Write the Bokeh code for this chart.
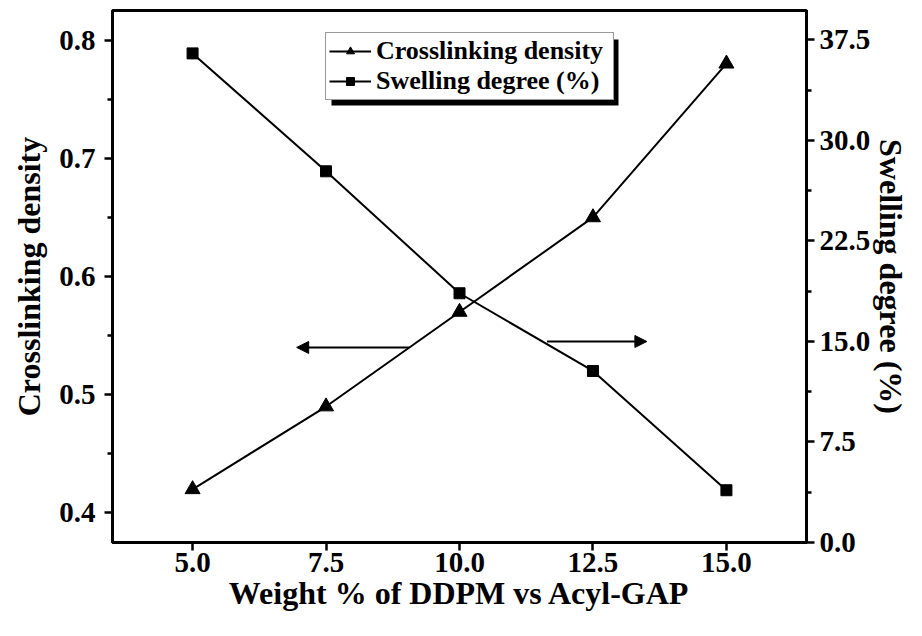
from bokeh.plotting import figure
from bokeh.models import (Range1d, LinearAxis, FixedTicker, PrintfTickFormatter,
                          Legend, LegendItem, Arrow, NormalHead, BoxAnnotation)
from bokeh.embed import file_html
from bokeh.resources import INLINE

# ---- data ----
weight = [5.0, 7.5, 10.0, 12.5, 15.0]
crosslink_density = [0.42, 0.49, 0.57, 0.65, 0.78]
swelling_degree = [36.5, 27.7, 18.6, 12.8, 3.9]

x_ticks = [5.0, 7.5, 10.0, 12.5, 15.0]
left_ticks = [0.4, 0.5, 0.6, 0.7, 0.8]
left_minor = [0.45, 0.55, 0.65, 0.75]
right_ticks = [0.0, 7.5, 15.0, 22.5, 30.0, 37.5]
right_minor = [3.75, 11.25, 18.75, 26.25, 33.75]

# indicator arrows (x from, x to, level)
left_arrow = [9.05, 6.95, 0.540]     # points to left axis
right_arrow = [11.64, 13.51, 15.0]   # points to right axis

FONT = "Liberation Serif"

p = figure(frame_width=694, frame_height=532, x_range=Range1d(3.5, 16.5),
           y_range=Range1d(0.375, 0.825), output_backend="svg",
           toolbar_location=None, min_border_left=112, min_border_right=100,
           min_border_top=10, min_border_bottom=78)
p.extra_y_ranges = {"right": Range1d(0.0, 39.7)}
p.grid.visible = False
p.outline_line_color = "black"
p.outline_line_width = 3
p.background_fill_color = "white"
p.border_fill_color = "white"

raxis = LinearAxis(y_range_name="right")
p.add_layout(raxis, "right")

p.xaxis.ticker = FixedTicker(ticks=x_ticks)
p.yaxis[0].ticker = FixedTicker(ticks=left_ticks, minor_ticks=left_minor)
raxis.ticker = FixedTicker(ticks=right_ticks, minor_ticks=right_minor)

for ax in [p.xaxis[0], p.yaxis[0], raxis]:
    ax.formatter = PrintfTickFormatter(format="%.1f")
    ax.axis_line_width = 3
    ax.axis_line_color = "black"
    ax.major_tick_line_color = "black"
    ax.minor_tick_line_color = "black"
    ax.major_tick_line_width = 2.5
    ax.minor_tick_line_width = 2.5
    ax.major_tick_in = 0
    ax.major_tick_out = 8
    ax.minor_tick_in = 0
    ax.minor_tick_out = 5
    ax.major_label_text_font = FONT
    ax.major_label_text_font_style = "bold"
    ax.major_label_text_font_size = "29px"
    ax.major_label_text_color = "black"
    ax.axis_label_text_font = FONT
    ax.axis_label_text_font_style = "bold"
    ax.axis_label_text_font_size = "32px"
    ax.axis_label_text_color = "black"

p.xaxis[0].minor_tick_out = 0
p.xaxis[0].axis_label = "Weight % of DDPM vs Acyl-GAP"
p.yaxis[0].axis_label = "Crosslinking density"
raxis.axis_label = "Swelling degree (%)"
p.xaxis[0].major_label_standoff = 2
p.xaxis[0].axis_label_standoff = 0
p.yaxis[0].major_label_standoff = 9
p.yaxis[0].axis_label_standoff = 9
raxis.major_label_standoff = 5
raxis.axis_label_standoff = 0

r1l = p.line(weight, crosslink_density, line_color="black", line_width=2)
r1m = p.scatter(weight, crosslink_density, marker="triangle", size=15,
                fill_color="black", line_color="black")
r2l = p.line(weight, swelling_degree, line_color="black", line_width=2,
             y_range_name="right")
r2m = p.scatter(weight, swelling_degree, marker="square", size=11,
                fill_color="black", line_color="black", y_range_name="right")

p.add_layout(Arrow(end=NormalHead(size=12, fill_color="black", line_color="black"),
                   x_start=left_arrow[0], x_end=left_arrow[1],
                   y_start=left_arrow[2], y_end=left_arrow[2],
                   line_width=2, line_color="black"))
p.add_layout(Arrow(end=NormalHead(size=12, fill_color="black", line_color="black"),
                   x_start=right_arrow[0], x_end=right_arrow[1],
                   y_start=right_arrow[2], y_end=right_arrow[2],
                   y_range_name="right", line_width=2, line_color="black"))

# legend drop shadow (screen px, relative to frame bottom-left)
p.add_layout(BoxAnnotation(left=219, right=506, top=503, bottom=437,
                           left_units="screen", right_units="screen",
                           top_units="screen", bottom_units="screen",
                           fill_color="black", fill_alpha=1.0, line_alpha=0))

legend = Legend(items=[LegendItem(label="Crosslinking density", renderers=[r1l, r1m]),
                       LegendItem(label="Swelling degree (%)", renderers=[r2l, r2m])],
                location=(213, 442), label_text_font=FONT,
                label_text_font_style="bold", label_text_font_size="26px",
                label_text_color="black",
                glyph_width=42, label_width=234, padding=3, spacing=0,
                label_standoff=5, border_line_color="#333333", border_line_width=1,
                background_fill_color="white", background_fill_alpha=1.0, margin=0)
p.add_layout(legend, "center")

open("out.html", "w").write(file_html(p, INLINE))
